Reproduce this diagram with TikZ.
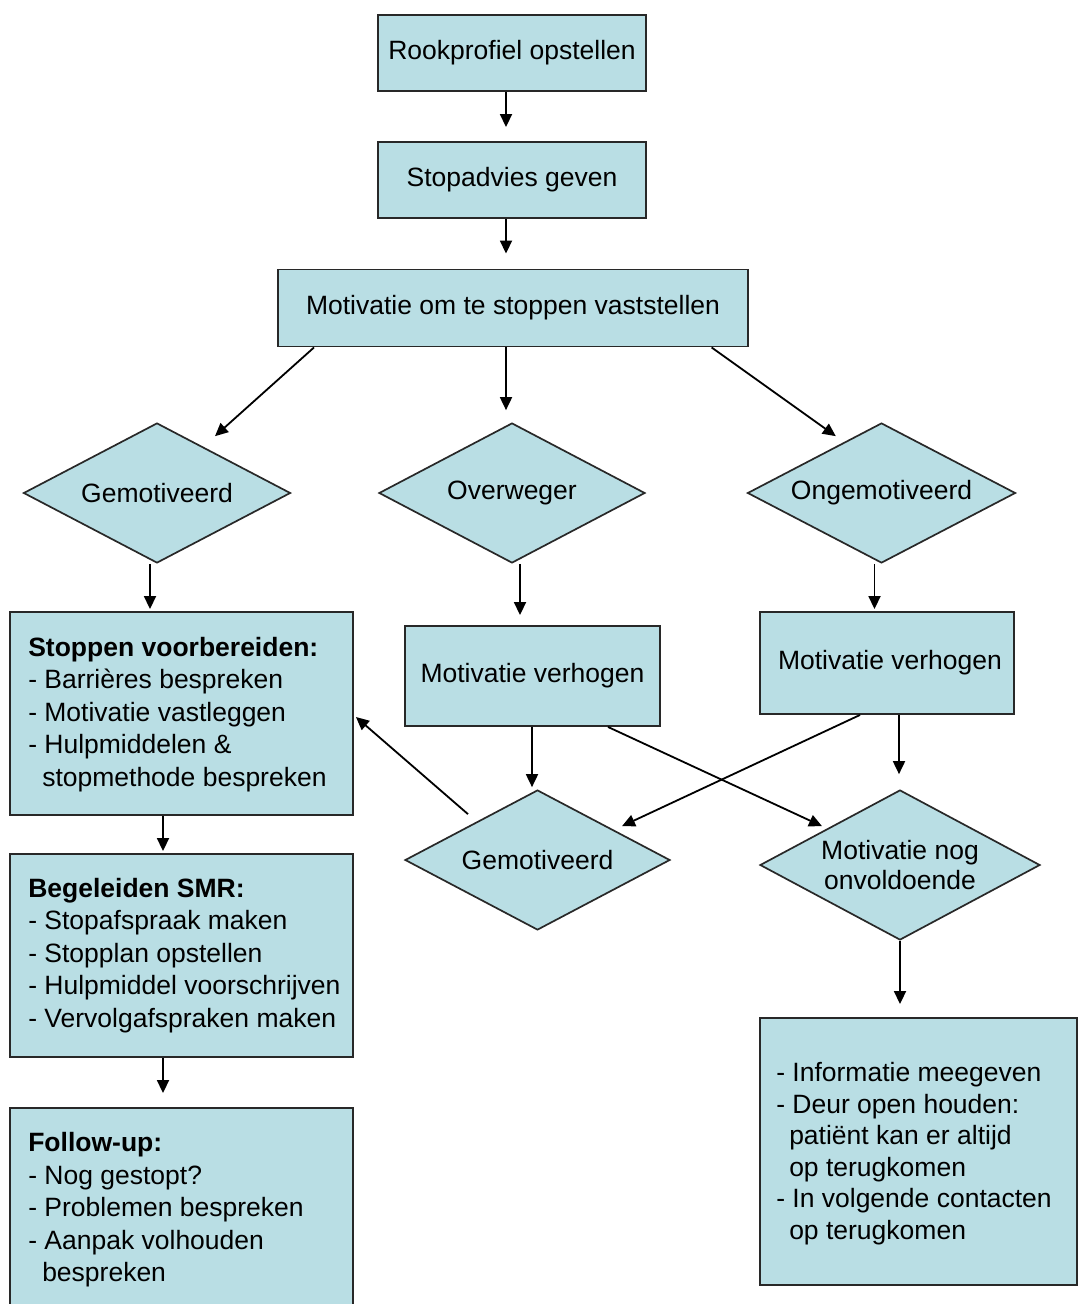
\documentclass[tikz,border=0pt]{standalone}
\usepackage{fontspec}
\setmainfont{Liberation Sans}
\usetikzlibrary{shapes.geometric,arrows.meta}
\definecolor{boxfill}{RGB}{185,222,228}
\definecolor{edge}{RGB}{40,40,40}
\begin{document}
\begin{tikzpicture}[x=1pt,y=-1pt,
  txt/.style={font=\fontsize{26.5}{32.5}\selectfont},
  box/.style={draw=edge, line width=1.9pt, fill=boxfill, rectangle, inner sep=0pt, txt},
  dia/.style={draw=edge, line width=1.7pt, fill=boxfill, diamond, inner sep=0pt, aspect=1.9, align=center, txt},
  arr/.style={line width=1.8pt, -{Triangle[length=13pt,width=12pt]}},
  list/.style={txt, align=left, inner sep=0pt, anchor=west}]
\useasboundingbox (0,0) rectangle (1078,1304);
\fill[white] (0,0) rectangle (1078,1304);
\clip (0,0) rectangle (1078,1304);

% top chain
\node[box, minimum width=268, minimum height=76] (rook) at (512,53) {Rookprofiel opstellen};
\node[box, minimum width=268, minimum height=76] (stopadv) at (512,180) {Stopadvies geven};
\node[box, minimum width=470, minimum height=77] (motiv) at (513,308) {Motivatie om te stoppen vaststellen};

% diamonds row
\node[dia, minimum width=267, minimum height=140] (d1) at (157,493) {Gemotiveerd};
\node[dia, minimum width=266, minimum height=140] (d2) at (512,493) {Overweger};
\node[dia, minimum width=268, minimum height=140] (d3) at (881.5,493) {Ongemotiveerd};

% left column
\node[box, minimum width=343, minimum height=203] (stop) at (181.5,713.5) {};
\node[list] (stopT) at ([shift={(19,1)}]stop.west) {\textbf{Stoppen voorbereiden:}\\- Barrières bespreken\\- Motivatie vastleggen\\- Hulpmiddelen \&\\\hspace*{14pt}stopmethode bespreken};
\node[box, minimum width=343, minimum height=203] (beg) at (181.5,955.5) {};
\node[list] (begT) at ([shift={(19,0)}]beg.west) {\textbf{Begeleiden SMR:}\\- Stopafspraak maken\\- Stopplan opstellen\\- Hulpmiddel voorschrijven\\- Vervolgafspraken maken};
\node[box, minimum width=343, minimum height=204] (follow) at (181.5,1210) {};
\node[list] (followT) at ([shift={(19,0)}]follow.west) {\textbf{Follow-up:}\\- Nog gestopt?\\- Problemen bespreken\\- Aanpak volhouden\\\hspace*{14pt}bespreken};

% middle and right
\node[box, minimum width=255, minimum height=100] (mv1) at (532.5,676) {Motivatie verhogen};
\node[box, minimum width=254, minimum height=102] (mv2) at (887,663) {\hspace*{6pt}Motivatie verhogen};
\node[dia, minimum width=265, minimum height=140] (d4) at (537.5,860) {Gemotiveerd};
\node[dia, minimum width=280, minimum height=150, font=\fontsize{26.5}{30}\selectfont] (d5) at (900,865) {Motivatie nog\\onvoldoende};
\node[box, minimum width=317, minimum height=267] (info) at (918.5,1151.5) {};
\node[list, font=\fontsize{26.5}{31.5}\selectfont] (infoT) at ([shift={(17,2)}]info.west) {- Informatie meegeven\\- Deur open houden:\\\hspace*{13pt}patiënt kan er altijd\\\hspace*{13pt}op terugkomen\\- In volgende contacten\\\hspace*{13pt}op terugkomen};

% connectors
\draw[arr] ([shift={(-6,0)}]rook.south) -- ([shift={(-6,-14)}]stopadv.north);
\draw[arr] ([shift={(-6,0)}]stopadv.south) -- ([shift={(-7,-15)}]motiv.north);
\draw[arr] ([shift={(-199,0)}]motiv.south) -- ([shift={(58,14)}]d1.north);
\draw[arr] ([shift={(-7,0)}]motiv.south) -- ([shift={(-6,-12)}]d2.north);
\draw[arr] ([shift={(198.6,0)}]motiv.south) -- ([shift={(-45.7,14)}]d3.north);

\draw[arr] ([shift={(-7,0)}]d1.south) -- ([shift={(-31.5,-2)}]stop.north);
\draw[arr] ([shift={(8,0)}]d2.south) -- ([shift={(-12.5,-10)}]mv1.north);
\draw[arr] ([shift={(-7,0)}]d3.south) -- ([shift={(-12.5,-2)}]mv2.north);

\draw[arr] ([shift={(-18.5,0)}]stop.south) -- ([shift={(-18.5,-2)}]beg.north);
\draw[arr] ([shift={(-18.5,0)}]beg.south) -- ([shift={(-18.5,-14)}]follow.north);

\draw[arr] ([shift={(-0.5,0)}]mv1.south) -- ([shift={(-5.5,-2)}]d4.north);
\draw[arr] ([shift={(12,0)}]mv2.south) -- ([shift={(-1,-15)}]d5.north);
\draw[arr] ([shift={(75.5,0)}]mv1.south) -- ([shift={(-78,37)}]d5.north);
\draw[arr] ([shift={(-27,0)}]mv2.south) -- ([shift={(84.5,37)}]d4.north);
\draw[arr] ([shift={(-69.5,25)}]d4.north) -- ([shift={(2,3.5)}]stop.east);
\draw[arr] (d5.south) -- ([shift={(-18.5,-13)}]info.north);
\end{tikzpicture}
\end{document}
